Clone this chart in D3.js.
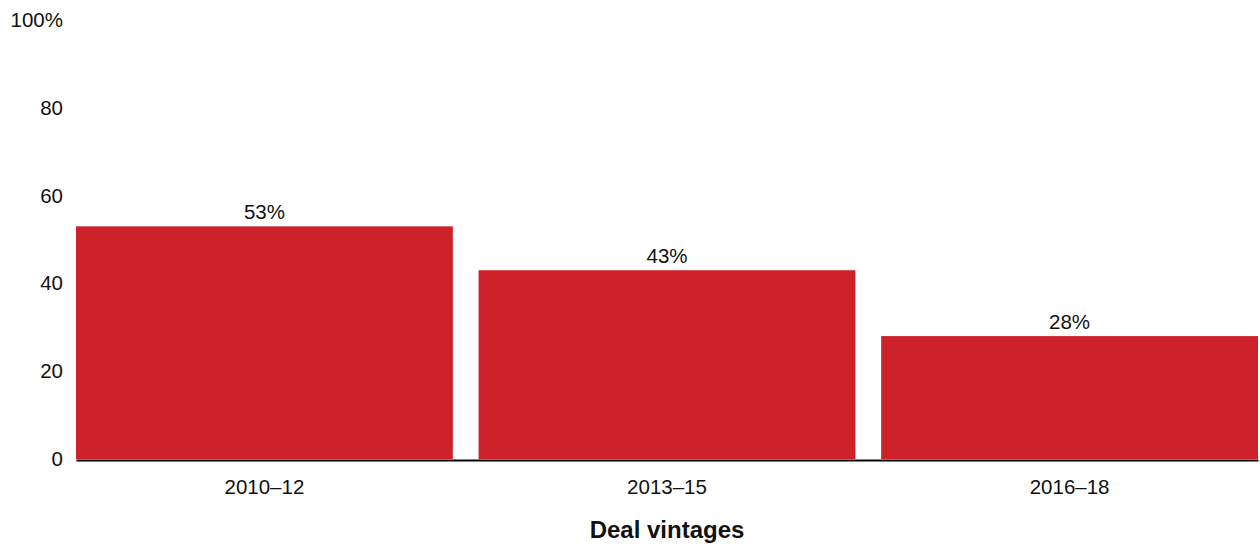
<!DOCTYPE html>
<html>
<head>
<meta charset="utf-8">
<script src="https://cdn.jsdelivr.net/npm/d3@7"></script>
<style>
  html, body { margin: 0; padding: 0; background: #fff; }
  svg { display: block; font-family: "Liberation Sans", Arial, sans-serif; }
</style>
</head>
<body>
<svg id="chart" width="1260" height="544"></svg>
<script>
// Share of deals by vintage (percent)
const categories = ["2010–12", "2013–15", "2016–18"];
const values = [53, 43, 28];
const yTicks = [0, 20, 40, 60, 80, 100];
const xTitle = "Deal vintages";

const svg = d3.select("#chart");
const plotLeft = 76, plotRight = 1258, plotTop = 20, plotBottom = 459;
const fontSize = 20.5;

const x = d3.scaleBand()
  .domain(categories)
  .range([plotLeft, plotRight])
  .paddingInner(0.064)
  .paddingOuter(0);

const y = d3.scaleLinear().domain([0, 100]).range([plotBottom, plotTop]);

// bars
svg.append("g").selectAll("rect")
  .data(values)
  .join("rect")
  .attr("x", (d, i) => x(categories[i]))
  .attr("width", x.bandwidth())
  .attr("y", d => y(d))
  .attr("height", d => y(0) - y(d))
  .attr("fill", "#cc2128");

// value labels
svg.append("g").selectAll("text")
  .data(values)
  .join("text")
  .attr("x", (d, i) => x(categories[i]) + x.bandwidth() / 2)
  .attr("y", d => y(d) - 7)
  .attr("text-anchor", "middle")
  .attr("font-size", fontSize)
  .attr("fill", "#111")
  .text(d => d + "%");

// y axis labels
const yAxis = d3.axisLeft(y)
  .tickValues(yTicks)
  .tickSize(0)
  .tickPadding(0)
  .tickFormat(d => d === 100 ? d + "%" : d);
const gy = svg.append("g")
  .attr("transform", `translate(63,0)`)
  .call(yAxis);
gy.select(".domain").remove();
gy.selectAll("text")
  .attr("font-size", fontSize)
  .attr("fill", "#111")
  .attr("font-family", "Liberation Sans, Arial, sans-serif");

// x axis baseline and category labels
const xAxis = d3.axisBottom(x).tickSize(0).tickPadding(19);
const gx = svg.append("g")
  .attr("transform", `translate(0,${plotBottom + 1})`)
  .call(xAxis);
gx.select(".domain")
  .attr("stroke", "#000")
  .attr("stroke-width", 2.2);
gx.selectAll("text")
  .attr("font-size", fontSize)
  .attr("fill", "#111")
  .attr("font-family", "Liberation Sans, Arial, sans-serif");

// axis title
svg.append("text")
  .attr("x", (plotLeft + plotRight) / 2)
  .attr("y", 538)
  .attr("text-anchor", "middle")
  .attr("font-size", 24)
  .attr("font-weight", "bold")
  .attr("fill", "#111")
  .text(xTitle);
</script>
</body>
</html>
